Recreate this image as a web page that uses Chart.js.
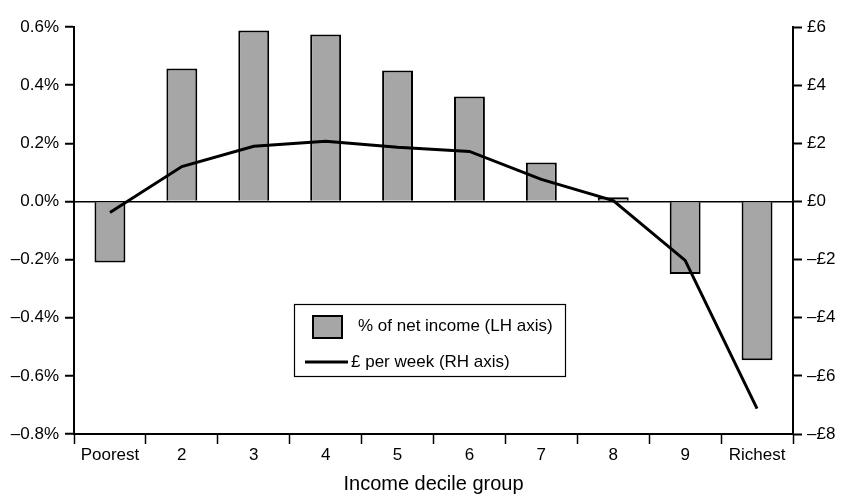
<!DOCTYPE html>
<html>
<head>
<meta charset="utf-8">
<script src="https://cdn.jsdelivr.net/npm/chart.js@4.4.1/dist/chart.umd.min.js"></script>
<style>
  body { margin: 0; background: #fff; }
  canvas { display: block; }
</style>
</head>
<body>
<canvas id="chart" width="848" height="496"></canvas>
<script>
const deciles = ['Poorest', '2', '3', '4', '5', '6', '7', '8', '9', 'Richest'];
const pctOfIncome = [-0.21, 0.457, 0.588, 0.574, 0.45, 0.361, 0.134, 0.014, -0.25, -0.546];
const poundsPerWeek = [-0.38, 1.2, 1.9, 2.07, 1.86, 1.72, 0.76, 0.03, -2.03, -7.13];
const pctTicks = [-0.8, -0.6, -0.4, -0.2, 0, 0.2, 0.4, 0.6];
const poundTicks = [-8, -6, -4, -2, 0, 2, 4, 6];

const FONT = "'Liberation Sans', Arial, Helvetica, sans-serif";
const dash = '\u2013';

// legend drawn inside the plot, boxed
const boxLegend = {
  id: 'boxLegend',
  afterDraw(chart) {
    const c = chart.ctx;
    const ds = chart.data.datasets;
    c.save();
    c.fillStyle = '#fff';
    c.fillRect(294, 304, 271, 72);
    c.strokeStyle = '#000';
    c.lineWidth = 1.2;
    c.strokeRect(294.5, 304.5, 271, 72);
    c.fillStyle = '#a6a6a6';
    c.fillRect(313, 316, 29, 22);
    c.lineWidth = 2;
    c.strokeRect(313, 316, 29, 22);
    c.beginPath();
    c.moveTo(305, 362);
    c.lineTo(348, 362);
    c.lineWidth = 3;
    c.stroke();
    c.fillStyle = '#000';
    c.font = '17px ' + FONT;
    c.textBaseline = 'middle';
    c.fillText(ds[1].label, 358, 326);
    c.fillText(ds[0].label, 351, 362);
    c.restore();
  }
};

new Chart(document.getElementById('chart'), {
  type: 'bar',
  data: {
    labels: deciles,
    datasets: [{
      type: 'line',
      label: '\u00a3 per week (RH axis)',
      data: poundsPerWeek,
      yAxisID: 'y2',
      borderColor: '#000',
      borderWidth: 3,
      pointRadius: 0,
      tension: 0,
      order: 0
    }, {
      label: '% of net income (LH axis)',
      data: pctOfIncome,
      yAxisID: 'y',
      backgroundColor: '#a6a6a6',
      borderColor: '#000',
      borderWidth: 2,
      categoryPercentage: 1,
      barPercentage: 0.43,
      order: 1
    }]
  },
  options: {
    responsive: false,
    animation: false,
    layout: { padding: { top: 27, left: 0, right: 0, bottom: 0 } },
    plugins: { legend: { display: false }, tooltip: { enabled: false } },
    scales: {
      x: {
        offset: true,
        grid: { offset: true, drawOnChartArea: false, tickLength: 10, tickColor: '#000', tickWidth: 1.5 },
        border: { color: '#000', width: 2 },
        ticks: { color: '#000', font: { family: FONT, size: 17 }, padding: 1, maxRotation: 0 },
        title: { display: true, text: 'Income decile group', color: '#000', font: { family: FONT, size: 20 }, padding: { top: 0, bottom: 0 } },
        afterFit: s => { s.height = 62; }
      },
      y: {
        position: 'left',
        min: -0.8, max: 0.6,
        afterBuildTicks: s => { s.ticks = pctTicks.map(v => ({ value: v })); },
        grid: {
          color: c => (c.tick && c.tick.value === 0 ? '#000' : 'rgba(0,0,0,0)'),
          lineWidth: 1.5,
          tickColor: '#000', tickWidth: 2, tickLength: 9
        },
        border: { color: '#000', width: 2 },
        ticks: {
          color: '#000', font: { family: FONT, size: 17 }, padding: 6,
          callback: v => (v < 0 ? dash + Math.abs(v).toFixed(1) : v.toFixed(1)) + '%'
        },
        afterFit: s => { s.width = 74; }
      },
      y2: {
        position: 'right',
        min: -8, max: 6,
        afterBuildTicks: s => { s.ticks = poundTicks.map(v => ({ value: v })); },
        grid: { drawOnChartArea: false, tickColor: '#000', tickWidth: 2, tickLength: 9 },
        border: { color: '#000', width: 2 },
        ticks: {
          color: '#000', font: { family: FONT, size: 17 }, padding: 5,
          callback: v => (v < 0 ? dash : '') + '\u00a3' + Math.abs(v)
        },
        afterFit: s => { s.width = 55; }
      }
    }
  },
  plugins: [boxLegend]
});
</script>
</body>
</html>
